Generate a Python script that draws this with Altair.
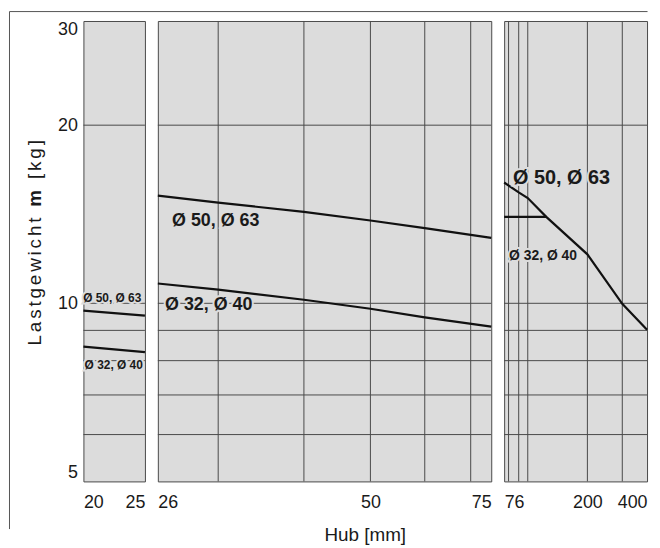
import altair as alt
import pandas as pd

# ---------------- data ----------------
y_domain = [5, 30]
y_ticks = [5, 10, 20, 30]
y_grid = [6, 7, 8, 9, 10, 20]

# panel 1 : stroke 20..25
p1_domain = [20, 25]
p1_ticks = [20, 25]
p1_x = [20, 25]
p1_upper = [9.72, 9.53]     # Ø 50, Ø 63
p1_lower = [8.45, 8.27]     # Ø 32, Ø 40

# panel 2 : stroke 26..75
p2_domain = [24.5, 75]
p2_tick_pos = [24.5, 50, 75]
p2_tick_text = ["26", "50", "75"]
p2_grid = [30, 40, 50, 60, 70]
p2_x = [24.5, 30, 40, 50, 60, 75]
p2_upper = [15.2, 14.8, 14.27, 13.8, 13.4, 12.9]
p2_lower = [10.8, 10.55, 10.14, 9.79, 9.47, 9.13]

# panel 3 : stroke 76..400
p3_domain = [76, 400]
p3_ticks = [76, 200, 400]
p3_grid = [80, 90, 100, 200, 300]
p3_x = [76, 90, 100, 124, 200, 300, 400]
p3_upper = [16.0, 15.4, 15.06, 14.0, 12.1, 9.98, 9.02]
p3_flat_x = [76, 124]
p3_flat_y = [14.0, 14.0]

# labels: text, x, y
p1_labels = [("Ø 50, Ø 63", 22.34, 10.2), ("Ø 32, Ø 40", 22.46, 7.85)]
p2_labels = [("Ø 50, Ø 63", 25.7, 13.8), ("Ø 32, Ø 40", 25.1, 9.92)]
p3_labels = [("Ø 50, Ø 63", 84.2, 16.3), ("Ø 32, Ø 40", 80.5, 12.0)]

y_title = "Lastgewicht m [kg]"
y_title_bold = "m"
x_title = "Hub [mm]"

# ---------------- style ----------------
FONT = "Liberation Sans"
BG = "#dcdcdc"
GRID = "#4a4a4a"
INK = "#1a1a1a"
H = 464
LFS = 18

y_scale = alt.Scale(type="log", domain=y_domain, nice=False)


def x_axis(values, expr=None):
    kw = dict(values=values, labelFlush=True, labelOverlap=False, ticks=False,
              domain=False, grid=False, labelFontSize=LFS, labelFont=FONT,
              labelColor=INK, labelPadding=12, title=None, format="d")
    if expr:
        kw["labelExpr"] = expr
    return alt.Axis(**kw)


def text_layers(df_row, size, align):
    halo = alt.Chart(df_row).mark_text(font=FONT, fontSize=size, fontWeight="bold",
                                       align=align, baseline="middle", color=BG,
                                       stroke=BG, strokeWidth=4)
    txt = alt.Chart(df_row).mark_text(font=FONT, fontSize=size, fontWeight="bold",
                                      align=align, baseline="middle", color=INK)
    return halo, txt


def panel(width, xs, xa, ya, grid_x, series, labels, extra_front=None, extra_back=None):
    X = alt.X("x:Q", scale=xs, axis=xa, title=None)
    Y = alt.Y("y:Q", scale=y_scale, axis=ya, title=None)
    layers = []
    if extra_back:
        layers += extra_back
    layers.append(alt.Chart(pd.DataFrame({"y": y_grid}))
                  .mark_rule(color=GRID, strokeWidth=1).encode(y=Y))
    if grid_x:
        layers.append(alt.Chart(pd.DataFrame({"x": grid_x}))
                      .mark_rule(color=GRID, strokeWidth=1).encode(x=X))
    line_df = pd.concat([pd.DataFrame({"x": xx, "y": yy, "s": name})
                         for name, xx, yy in series])
    layers.append(alt.Chart(line_df).mark_line(color="#111", strokeWidth=2.2)
                  .encode(x=X, y=Y, detail="s:N"))
    for text, lx, ly, size, align in labels:
        df = pd.DataFrame({"x": [lx], "y": [ly], "t": [text]})
        h, t = text_layers(df, size, align)
        layers.append(h.encode(x=X, y=Y, text="t:N"))
        layers.append(t.encode(x=X, y=Y, text="t:N"))
    if extra_front:
        layers += extra_front
    return alt.layer(*layers).properties(width=width, height=H)


# ---- rotated y title, set letter by letter (spaced out, "m" bold) ----
ARIAL_W = {"L": .556, "a": .556, "s": .5, "t": .278, "g": .556, "e": .556, "w": .722,
           "i": .222, "c": .5, "h": .556, " ": .278, "m": .889, "[": .278, "k": .5, "]": .278}
TFS = 19            # font size
T_LEN = 207         # total length in px
T_CENTER = 223.5    # centre (px from top of plot)
nat = sum(ARIAL_W[c] * TFS for c in y_title)
gap = (T_LEN - nat) / (len(y_title) - 1)
pos = T_CENTER + T_LEN / 2
rows = []
for c in y_title:
    if c != " ":
        rows.append({"t": c, "py": pos, "w": "bold" if c == y_title_bold else "normal"})
    pos -= ARIAL_W[c] * TFS + gap
tdf = pd.DataFrame(rows)
front1 = []
for wt in ["normal", "bold"]:
    front1.append(alt.Chart(tdf[tdf.w == wt]).mark_text(
        font=FONT, fontSize=TFS, fontWeight=wt, angle=270, align="left",
        baseline="alphabetic", color=INK).encode(
        text="t:N", x=alt.value(-43), y=alt.Y("py:Q", scale=None)))

one = pd.DataFrame({"a": [0]})
frame = [
    alt.Chart(one).mark_rule(color="#555", strokeWidth=1).encode(
        x=alt.value(-74.5), y=alt.value(-9.5), y2=alt.value(512)),
    alt.Chart(one).mark_rule(color="#555", strokeWidth=1).encode(
        x=alt.value(-74.5), x2=alt.value(568.5), y=alt.value(-9.5)),
]

y_axis1 = alt.Axis(values=y_ticks, labelFlush=True, labelOverlap=False, ticks=False,
                   domain=False, grid=False, labelFontSize=LFS, labelFont=FONT,
                   labelColor=INK, labelPadding=6, title=None, format="d")

p1 = panel(62, alt.Scale(domain=p1_domain, nice=False, zero=False), x_axis(p1_ticks), y_axis1,
           None,
           [("u", p1_x, p1_upper), ("l", p1_x, p1_lower)],
           [(t, x, y, 12, "center") for t, x, y in p1_labels],
           extra_front=front1, extra_back=frame)

xt = alt.Chart(pd.DataFrame({"t": [x_title]})).mark_text(
    font=FONT, fontSize=19, color=INK, align="center", baseline="middle").encode(
    text="t:N", x=alt.value(209), y=alt.value(518))

expr2 = " : ".join(f"datum.value == {v} ? '{t}'" for v, t in zip(p2_tick_pos, p2_tick_text)) + " : datum.label"
p2 = panel(336, alt.Scale(type="log", domain=p2_domain, nice=False), x_axis(p2_tick_pos, expr2), None,
           p2_grid,
           [("u", p2_x, p2_upper), ("l", p2_x, p2_lower)],
           [(t, x, y, 18, "left") for t, x, y in p2_labels],
           extra_front=[xt])

p3 = panel(144, alt.Scale(type="log", domain=p3_domain, nice=False), x_axis(p3_ticks), None,
           p3_grid,
           [("u", p3_x, p3_upper), ("f", p3_flat_x, p3_flat_y)],
           [(p3_labels[0][0], p3_labels[0][1], p3_labels[0][2], 20, "left"),
            (p3_labels[1][0], p3_labels[1][1], p3_labels[1][2], 14, "left")])

chart = alt.hconcat(p1, p2, p3, spacing=13, bounds="flush").properties(
    padding=0,
    background="white",
).configure_view(stroke=GRID, strokeWidth=1, fill=BG)

chart.save("out.html", embed_options={"renderer": "svg", "actions": False})
